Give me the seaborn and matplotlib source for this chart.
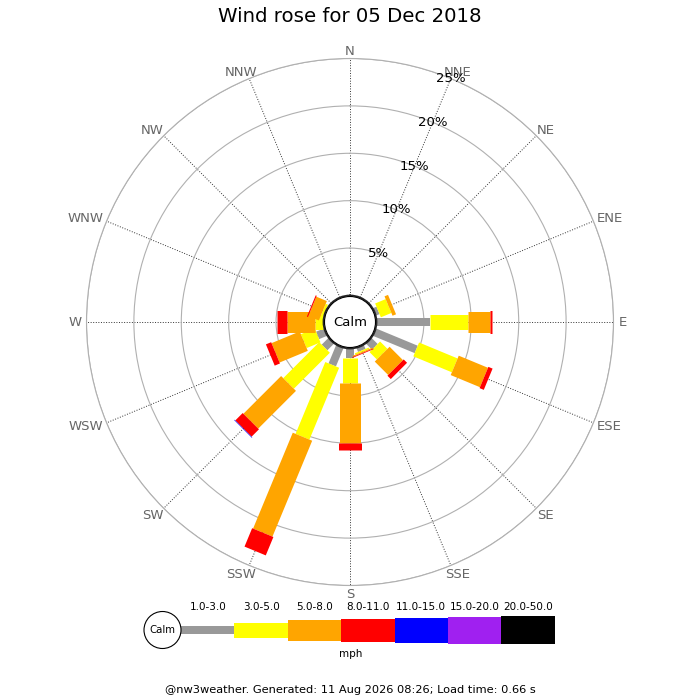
import numpy as np
import pandas as pd
import matplotlib
matplotlib.use("Agg")
import matplotlib.pyplot as plt
from matplotlib.patches import Circle
import seaborn as sns

# 16 compass points, clockwise from north
directions = ["N", "NNE", "NE", "ENE", "E", "ESE", "SE", "SSE",
              "S", "SSW", "SW", "WSW", "W", "WNW", "NW", "NNW"]
speed_bins = ["1.0-3.0", "3.0-5.0", "5.0-8.0", "8.0-11.0",
              "11.0-15.0", "15.0-20.0", "20.0-50.0"]

# % of the day in each direction, one list per speed bin (N .. NNW)
pct_1_3 = [0, 0, 0, 0.4, 5.6, 4.76, 0.9, 0.45, 0.95, 2.1, 1.0, 0.9, 0, 0.05, 0, 0]
pct_3_5 = [0, 0, 0, 1.2, 4.06, 4.4, 1.1, 0.15, 2.69, 8.2, 5.37, 1.58, 0.9, 0.25, 0, 0]
pct_5_8 = [0, 0, 0, 0.4, 2.34, 3.34, 2.0, 0.12, 6.31, 10.95, 5.63, 3.22, 2.97, 1.2, 0, 0]
pct_8_11 = [0, 0, 0, 0, 0.15, 0.48, 0.5, 0.08, 0.75, 2.1, 1.1, 0.6, 1.06, 0.12, 0, 0]
pct_11_15 = [0, 0, 0, 0, 0, 0, 0, 0, 0, 0, 0.06, 0, 0, 0, 0, 0]
pct_15_20 = [0] * 16
pct_20_50 = [0] * 16

r_ticks = [5, 10, 15, 20, 25]

bin_colors = ["#999999", "#ffff00", "#ffa500", "#ff0000",
              "#0000ff", "#a020f0", "#000000"]
bar_px = [8, 15, 21, 23, 25, 27, 28]          # bar thickness in pixels

DPI = 100
R_PX = 263.5                  # outer ring radius in pixels
R_MAX = 25
R_ORIGIN = -2.8               # leaves room for the calm circle
CX, CY = 350, 322

sns.set_theme(style="white")
plt.rcParams["font.family"] = ["DejaVu Sans"]
plt.rcParams["text.color"] = "black"

thetas = np.deg2rad(np.arange(16) * 22.5)
per_bin = [pct_1_3, pct_3_5, pct_5_8, pct_8_11, pct_11_15, pct_15_20, pct_20_50]

# long-form table: two points (start, end) per stacked segment
rows = []
cum = np.zeros(16)
for b, vals in zip(speed_bins, per_bin):
    vals = np.asarray(vals, dtype=float)
    for i, d in enumerate(directions):
        if vals[i] > 0:
            rows.append({"theta": thetas[i], "r": cum[i], "bin": b, "seg": f"{d} {b}"})
            rows.append({"theta": thetas[i], "r": cum[i] + vals[i], "bin": b, "seg": f"{d} {b}"})
    cum += vals
df = pd.DataFrame(rows)

present = [b for b in speed_bins if b in set(df["bin"])]
palette = dict(zip(speed_bins, bin_colors))
widths = {b: px * 72 / DPI for b, px in zip(speed_bins, bar_px)}

fig = plt.figure(figsize=(7, 7), dpi=DPI)
size = 2 * R_PX / 700
ax = fig.add_axes([(CX - R_PX) / 700, 1 - (CY + R_PX) / 700, size, size],
                  projection="polar")
ax.set_theta_zero_location("N")
ax.set_theta_direction(-1)
ax.set_axisbelow(True)

sns.lineplot(data=df, x="theta", y="r", hue="bin", size="bin", units="seg",
             estimator=None, sort=False, palette=palette, sizes=widths,
             hue_order=present, size_order=present, legend=False,
             solid_capstyle="butt", ax=ax)

ax.set_ylim(0, R_MAX)
ax.set_rorigin(R_ORIGIN)
ax.set_xticks(thetas)
ax.set_xticklabels([])
ax.set_yticks(r_ticks)
ax.set_yticklabels([])
ax.set_xlabel("")
ax.set_ylabel("")
ax.xaxis.grid(True, color="#333333", linestyle=":", linewidth=0.7)
ax.yaxis.grid(True, color="#b0b0b0", linestyle="-", linewidth=0.8)
ax.spines["polar"].set_color("#b0b0b0")
ax.spines["polar"].set_linewidth(0.8)
ax.spines["inner"].set_visible(False)
ax.tick_params(length=0)

# compass labels: pushed out from the rim by half their own size
renderer = fig.canvas.get_renderer()
for th, d in zip(thetas, directions):
    t = ax.annotate(d, xy=(th, R_MAX), xytext=(0, 0), textcoords="offset pixels",
                    color="#666666", fontsize=9.5, ha="center", va="center",
                    annotation_clip=False)
    bb = t.get_window_extent(renderer)
    s, c = np.sin(th), np.cos(th)
    pad_y = 0.5 if c > 0 else 3.0
    t.xyann = ((5 + bb.width / 2) * s, (pad_y + bb.height / 2) * c)

for r in r_ticks:
    ax.text(np.deg2rad(22.5), r, f"{r}%", color="black", fontsize=9.5,
            ha="center", va="center", zorder=12)

calm_frac = 25.5 / (2 * R_PX)
ax.add_patch(Circle((0.5, 0.5), calm_frac, transform=ax.transAxes,
                    facecolor="white", edgecolor="black", linewidth=0.8,
                    zorder=10, clip_on=False))
ax.text(0.5, 0.5, "Calm", transform=ax.transAxes, fontsize=9.5,
        ha="center", va="center", zorder=11)

fig.text(0.5, 1 - 17 / 700, "Wind rose for 05 Dec 2018", fontsize=14.2,
         ha="center", va="center")

# legend strip at the bottom, pixel coordinates
leg = fig.add_axes([0, 0, 1, 110 / 700])
leg.set_xlim(0, 700)
leg.set_ylim(700, 590)
leg.set_axis_off()
seg_w = 53.4
seg_x0 = 181
lefts = seg_x0 + seg_w * np.arange(len(speed_bins))
heights = np.array(bar_px, dtype=float)
leg.bar(lefts, heights, bottom=630 - heights / 2, width=seg_w, align="edge",
        color=bin_colors, linewidth=0)
for x, b in zip(lefts, speed_bins):
    leg.text(x + seg_w / 2, 607, b, fontsize=7.5, ha="center", va="center")
leg.add_patch(Circle((162.5, 630), 18.5, facecolor="white", edgecolor="black",
                     linewidth=0.8, zorder=5))
leg.text(162.5, 630, "Calm", fontsize=7.3, ha="center", va="center", zorder=6)
leg.text(351, 654, "mph", fontsize=7.5, ha="center", va="center")

fig.text(0.5, 1 - 690 / 700,
         "@nw3weather. Generated: 11 Aug 2026 08:26; Load time: 0.66 s",
         fontsize=8.2, ha="center", va="center")

fig.savefig("out.png", dpi=DPI)
